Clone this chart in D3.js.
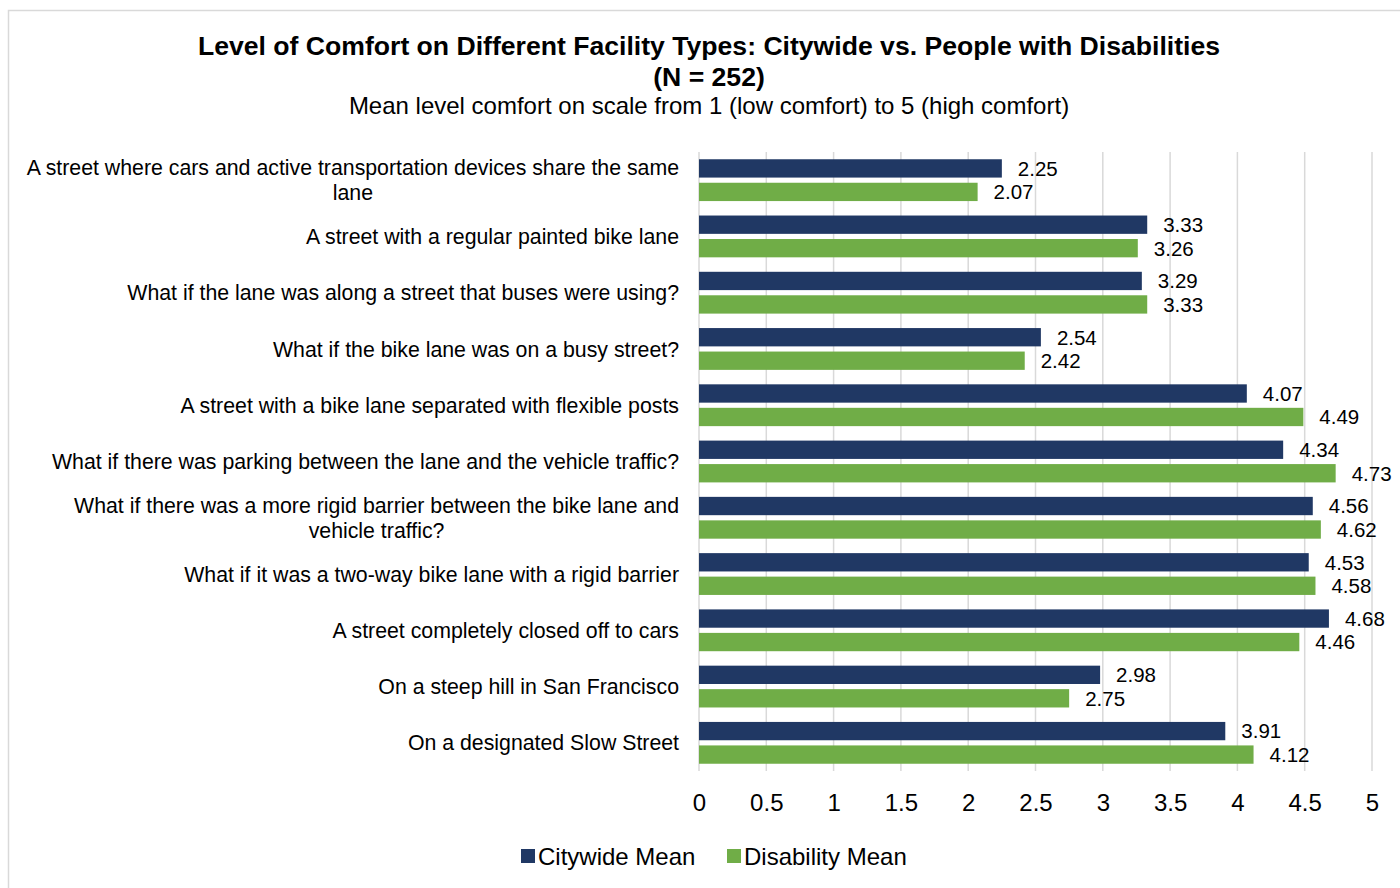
<!DOCTYPE html>
<html lang="en">
<head>
<meta charset="utf-8">
<title>Level of Comfort on Different Facility Types</title>
<script src="https://cdn.jsdelivr.net/npm/d3@7"></script>
<style>
  body { margin: 0; background: #fff; font-family: 'Liberation Sans', Arial, sans-serif; }
  svg { display: block; }
</style>
</head>
<body>
<div id="chart"></div>
<script>

/* Data */
/* ==== */

var categories = [
  'A street where cars and active transportation devices share the same lane',
  'A street with a regular painted bike lane',
  'What if the lane was along a street that buses were using?',
  'What if the bike lane was on a busy street?',
  'A street with a bike lane separated with flexible posts',
  'What if there was parking between the lane and the vehicle traffic?',
  'What if there was a more rigid barrier between the bike lane and vehicle traffic?',
  'What if it was a two-way bike lane with a rigid barrier',
  'A street completely closed off to cars',
  'On a steep hill in San Francisco',
  'On a designated Slow Street'
];

var citywideMean   = [2.25, 3.33, 3.29, 2.54, 4.07, 4.34, 4.56, 4.53, 4.68, 2.98, 3.91];
var disabilityMean = [2.07, 3.26, 3.33, 2.42, 4.49, 4.73, 4.62, 4.58, 4.46, 2.75, 4.12];

var seriesNames = ['Citywide Mean', 'Disability Mean'];
var xTicks = [0, 0.5, 1, 1.5, 2, 2.5, 3, 3.5, 4, 4.5, 5];


/* Setup */
/* ===== */

var width = 1400,
    height = 888,
    colors = ['#203864', '#70ad47'],
    plot = { left: 699, right: 1372, top: 152, bottom: 771 };

var svg = d3.select('#chart').append('svg')
    .attr('width', width)
    .attr('height', height);

// Chart border (cropped at right and bottom like the source)
svg.append('rect')
    .attr('x', 8.5).attr('y', 10.5)
    .attr('width', width + 20).attr('height', height + 20)
    .attr('fill', 'none')
    .attr('stroke', '#d9d9d9')
    .attr('stroke-width', 1.5);

var x = d3.scaleLinear()
    .domain([0, 5])
    .range([plot.left, plot.right]);

var y = d3.scaleBand()
    .domain(d3.range(categories.length))
    .range([plot.top, plot.bottom])
    .paddingInner(0.257)
    .paddingOuter(0.129);

var ySeries = d3.scaleBand()
    .domain([0, 1])
    .range([0, y.bandwidth()])
    .paddingInner(0.22);


/* Titles */
/* ====== */

svg.append('text')
    .attr('x', 709).attr('y', 55)
    .attr('text-anchor', 'middle')
    .style('font-size', '26.6px')
    .style('font-weight', 'bold')
    .text('Level of Comfort on Different Facility Types: Citywide vs. People with Disabilities');

svg.append('text')
    .attr('x', 709).attr('y', 86)
    .attr('text-anchor', 'middle')
    .style('font-size', '26.6px')
    .style('font-weight', 'bold')
    .text('(N = 252)');

svg.append('text')
    .attr('x', 709).attr('y', 114)
    .attr('text-anchor', 'middle')
    .style('font-size', '24px')
    .text('Mean level comfort on scale from 1 (low comfort) to 5 (high comfort)');


/* Grid and axis */
/* ============= */

svg.append('g')
    .selectAll('line')
    .data(xTicks)
    .join('line')
    .attr('x1', function(d) { return x(d); })
    .attr('x2', function(d) { return x(d); })
    .attr('y1', plot.top)
    .attr('y2', plot.bottom)
    .attr('stroke', '#d9d9d9')
    .attr('stroke-width', 1.5);

var xAxis = svg.append('g')
    .attr('transform', 'translate(0,' + (plot.bottom + 20) + ')')
    .call(d3.axisBottom(x).tickValues(xTicks).tickSize(0).tickFormat(d3.format('')));

xAxis.select('.domain').remove();
xAxis.selectAll('text')
    .attr('fill', '#000')
    .style('font-family', "'Liberation Sans', Arial, sans-serif")
    .style('font-size', '24px');


/* Bars */
/* ==== */

var groups = svg.append('g')
    .selectAll('g')
    .data(categories)
    .join('g')
    .attr('transform', function(d, i) { return 'translate(0,' + y(i) + ')'; });

[citywideMean, disabilityMean].forEach(function(series, s) {

  groups.append('rect')
      .attr('x', x(0))
      .attr('y', ySeries(s))
      .attr('width', function(d, i) { return x(series[i]) - x(0); })
      .attr('height', ySeries.bandwidth())
      .attr('fill', colors[s]);

  groups.append('text')
      .attr('x', function(d, i) { return x(series[i]) + 16; })
      .attr('y', ySeries(s) + ySeries.bandwidth() / 2)
      .attr('dy', '0.36em')
      .style('font-size', '20.5px')
      .text(function(d, i) { return series[i].toFixed(2); });

});


/* Category labels */
/* =============== */

var labelWidth = 664;

groups.each(function(d, i) {

  var g = d3.select(this);
  var cy = y.bandwidth() / 2;

  var t = g.append('text')
      .style('font-size', '21.3px');

  // Wrap the label on word boundaries
  var words = d.split(' '),
      lines = [],
      line = [];

  var probe = t.append('tspan');
  words.forEach(function(w) {
    line.push(w);
    probe.text(line.join(' '));
    if (probe.node().getComputedTextLength() > labelWidth && line.length > 1) {
      line.pop();
      lines.push(line.join(' '));
      line = [w];
    }
  });
  lines.push(line.join(' '));
  probe.remove();

  // Widest line decides where the centred block sits
  var widths = lines.map(function(l) {
    var tmp = t.append('tspan').text(l);
    var w = tmp.node().getComputedTextLength();
    tmp.remove();
    return w;
  });
  var blockW = d3.max(widths),
      centerX = 679 - blockW / 2,
      lineH = 25,
      startY = cy - (lines.length - 1) * lineH / 2;

  lines.forEach(function(l, k) {
    t.append('tspan')
        .attr('x', lines.length > 1 ? centerX : 679)
        .attr('y', startY + k * lineH)
        .attr('dy', '0.36em')
        .attr('text-anchor', lines.length > 1 ? 'middle' : 'end')
        .text(l);
  });

});


/* Legend */
/* ====== */

var legendX = [521, 727];

var legend = svg.append('g')
    .selectAll('g')
    .data(seriesNames)
    .join('g')
    .attr('transform', function(d, i) { return 'translate(' + legendX[i] + ',849)'; });

legend.append('rect')
    .attr('width', 14).attr('height', 14)
    .attr('fill', function(d, i) { return colors[i]; });

legend.append('text')
    .attr('x', 17).attr('y', 7)
    .attr('dy', '0.36em')
    .style('font-size', '24px')
    .text(function(d) { return d; });

</script>
</body>
</html>
